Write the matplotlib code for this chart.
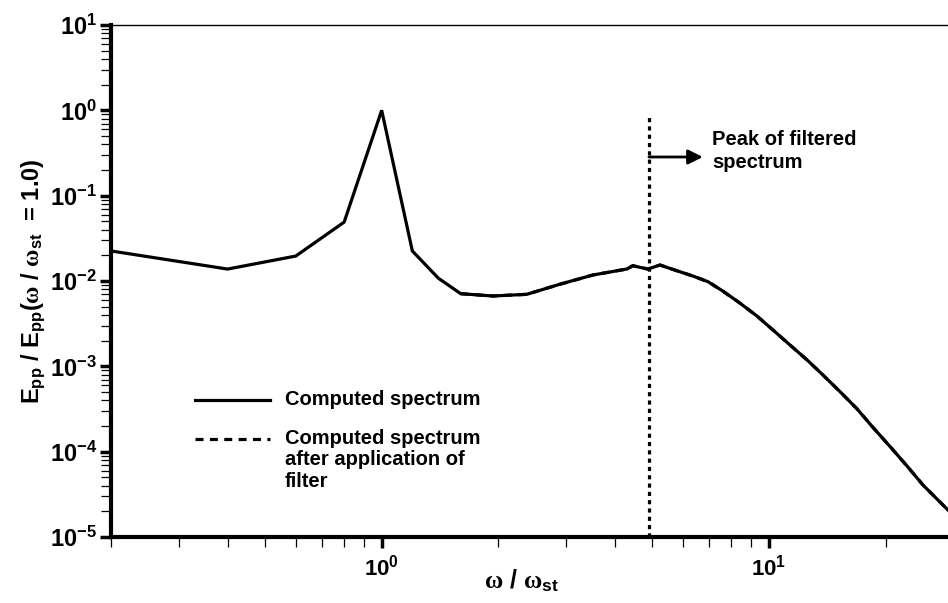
import numpy as np
import matplotlib
matplotlib.use("Agg")
import matplotlib.pyplot as plt
from matplotlib.ticker import LogLocator, NullFormatter, FixedLocator

plt.rcParams['font.family'] = 'Liberation Sans'
plt.rcParams['font.weight'] = 'bold'
plt.rcParams['axes.labelweight'] = 'bold'
plt.rcParams['mathtext.fontset'] = 'custom'
plt.rcParams['mathtext.it'] = 'Liberation Serif'
plt.rcParams['mathtext.rm'] = 'Liberation Sans:bold'

# computed spectrum
omega = [0.2, 0.4, 0.6, 0.8, 1.0, 1.2, 1.4, 1.6, 1.94, 2.37, 2.88, 3.51,
         4.30, 4.45, 4.87, 5.23, 5.78, 6.36, 6.96, 7.60, 8.41, 9.31, 10.24,
         11.33, 12.54, 13.79, 15.26, 16.88, 18.57, 20.54, 22.73, 25.0, 29.0]
epp = [0.0225, 0.0138, 0.0196, 0.049, 1.0, 0.0225, 0.0108, 0.0071, 0.00667,
       0.00698, 0.00914, 0.01175, 0.01383, 0.0151, 0.0138, 0.0154, 0.0132,
       0.01144, 0.00981, 0.00763, 0.00552, 0.00389, 0.00267, 0.00178,
       0.00119, 0.000791, 0.000505, 0.000318, 0.000192, 0.000115, 6.79e-5,
       4.06e-5, 2.07e-5]

# filtered spectrum (lies on top of the computed one)
omega_filt = omega[7:]
epp_filt = epp[7:]

x_major = [1, 10]
y_major = [1e-5, 1e-4, 1e-3, 1e-2, 1e-1, 1, 10]

peak_omega = 4.9
line_top = 0.88
arrow_end = 6.75
arrow_y = 0.284

fig = plt.figure(figsize=(9.48, 6.03), dpi=100)
ax = fig.add_axes([111/948, 1-537/603, 1-111/948, (537-25)/603])

ax.plot(omega, epp, color='black', lw=2.3, solid_joinstyle='miter')
ax.plot(omega_filt, epp_filt, color='black', lw=2.3, ls=(0, (2.5, 2)))
ax.plot([peak_omega, peak_omega], [1e-5, line_top], color='black', lw=2.3,
        ls=(0, (1.3, 1.3)))
ax.annotate('', xy=(arrow_end, arrow_y), xytext=(peak_omega, arrow_y),
            arrowprops=dict(arrowstyle='-|>', color='black', lw=2,
                            mutation_scale=22, shrinkA=0, shrinkB=0))
ax.text(0.718, 0.795, 'Peak of filtered\nspectrum', transform=ax.transAxes,
        fontsize=14.5, ha='left', va='top', linespacing=1.3)

# legend drawn by hand
ax.plot([0.1004, 0.19], [0.2676, 0.2676], transform=ax.transAxes,
        color='black', lw=2.3)
ax.plot([0.1004, 0.19], [0.1914, 0.1914], transform=ax.transAxes,
        color='black', lw=2.3, ls=(0, (2.5, 2)))
ax.text(0.208, 0.2676, 'Computed spectrum', transform=ax.transAxes,
        fontsize=14.5, ha='left', va='center')
ax.text(0.208, 0.2105, 'Computed spectrum\nafter application of\nfilter',
        transform=ax.transAxes, fontsize=14.5, ha='left', va='top',
        linespacing=1.15)

ax.set_xscale('log')
ax.set_yscale('log')
ax.set_xlim(0.2, 29.0)
ax.set_ylim(1e-5, 10)
ax.xaxis.set_major_locator(FixedLocator(x_major))
ax.yaxis.set_major_locator(FixedLocator(y_major))
ax.yaxis.set_minor_locator(LogLocator(base=10, subs=np.arange(2, 10), numticks=20))
ax.yaxis.set_minor_formatter(NullFormatter())
ax.xaxis.set_minor_formatter(NullFormatter())

ax.spines['right'].set_visible(False)
ax.spines['top'].set_linewidth(1.0)
ax.spines['left'].set_linewidth(3)
ax.spines['bottom'].set_linewidth(3)
ax.tick_params(which='major', length=8, width=2.5, labelsize=16, pad=2)
ax.tick_params(which='minor', length=7.5, width=0.9)
ax.tick_params(axis='y', which='major', labelsize=17)
ax.tick_params(axis='x', which='major', pad=5)

ax.set_xlabel(r'$\omega$ / $\omega_{\mathdefault{st}}$', fontsize=18,
              fontweight='bold')
ax.xaxis.set_label_coords(0.49, -0.06)
ax.set_ylabel(r'E$_{\mathdefault{pp}}$ / E$_{\mathdefault{pp}}$($\omega$ / '
              r'$\omega_{\mathdefault{st}}$  = 1.0)', fontsize=17,
              fontweight='bold')
ax.yaxis.set_label_coords(-0.076, 0.5)

fig.savefig('out.png', dpi=100)
